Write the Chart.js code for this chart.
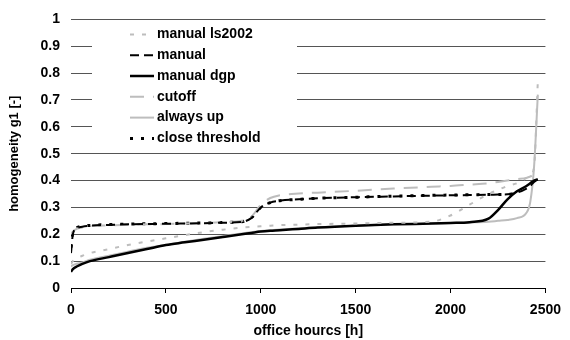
<!DOCTYPE html>
<html>
<head>
<meta charset="utf-8">
<script src="https://cdn.jsdelivr.net/npm/chart.js@4/dist/chart.umd.min.js"></script>
<style>
  body { margin: 0; background: #fff; }
  #wrap { width: 570px; height: 340px; }
</style>
</head>
<body>
<div id="wrap"><canvas id="chart" width="570" height="340"></canvas></div>
<script>
// horas de oficina (eje x) y valores de homogeneidad por estrategia
const hours = [0, 10, 30, 60, 100, 200, 300, 400, 500, 600, 700, 800, 900, 950, 1000, 1050,
  1100, 1200, 1300, 1500, 1700, 1900, 2000, 2100, 2200, 2250, 2300, 2350, 2400, 2420, 2440, 2460];

const manualLs2002 = [0.09, 0.10, 0.11, 0.12, 0.13, 0.145, 0.16, 0.173, 0.185, 0.197, 0.208, 0.217, 0.225, 0.228, 0.23, 0.232,
  0.234, 0.236, 0.238, 0.24, 0.243, 0.247, 0.27, 0.31, 0.35, 0.365, 0.38, 0.39, 0.41, 0.42, 0.45, 0.77];
const manual = [0.13, 0.20, 0.222, 0.228, 0.232, 0.235, 0.237, 0.238, 0.239, 0.24, 0.241, 0.243, 0.246, 0.26, 0.30, 0.318,
  0.325, 0.33, 0.334, 0.338, 0.341, 0.344, 0.345, 0.346, 0.347, 0.348, 0.349, 0.355, 0.37, 0.38, 0.395, 0.405];
const manualDgp = [0.06, 0.07, 0.08, 0.09, 0.10, 0.115, 0.13, 0.145, 0.16, 0.17, 0.18, 0.19, 0.20, 0.205, 0.21, 0.213,
  0.215, 0.22, 0.225, 0.232, 0.237, 0.24, 0.242, 0.245, 0.258, 0.29, 0.33, 0.36, 0.38, 0.39, 0.40, 0.405];
const cutoff = [0.20, 0.21, 0.22, 0.225, 0.23, 0.233, 0.235, 0.237, 0.238, 0.24, 0.242, 0.245, 0.25, 0.265, 0.31, 0.335,
  0.345, 0.352, 0.355, 0.362, 0.37, 0.377, 0.38, 0.385, 0.39, 0.395, 0.40, 0.405, 0.41, 0.415, 0.42, 0.42];
const alwaysUp = [0.08, 0.085, 0.09, 0.095, 0.105, 0.12, 0.135, 0.15, 0.16, 0.172, 0.183, 0.193, 0.203, 0.208, 0.212, 0.215,
  0.218, 0.222, 0.226, 0.232, 0.237, 0.24, 0.242, 0.244, 0.247, 0.25, 0.253, 0.26, 0.28, 0.32, 0.45, 0.72];
const closeThreshold = [0.15, 0.21, 0.225, 0.23, 0.233, 0.236, 0.238, 0.239, 0.24, 0.241, 0.242, 0.244, 0.247, 0.262, 0.30, 0.318,
  0.325, 0.33, 0.334, 0.338, 0.342, 0.345, 0.346, 0.347, 0.348, 0.348, 0.349, 0.35, null, null, null, null];

const yTicks = [0, 0.1, 0.2, 0.3, 0.4, 0.5, 0.6, 0.7, 0.8, 0.9, 1];
const xTicks = [0, 500, 1000, 1500, 2000, 2500];

const GRIS = '#bdbdbd';
const NEGRO = '#000000';
const FUENTE = '"Liberation Sans", Arial, sans-serif';

function serie(label, valores, color, ancho, guiones) {
    return {
        label: label,
        data: hours.map((h, i) => ({ x: h, y: valores[i] })),
        borderColor: color,
        borderWidth: ancho,
        borderDash: guiones,
        borderCapStyle: 'butt',
        pointRadius: 0,
        showLine: true,
        fill: false,
        cubicInterpolationMode: 'monotone',
        spanGaps: false
    };
}

const datasets = [
    serie('manual ls2002', manualLs2002, GRIS, 2, [4, 8]),
    serie('manual', manual, NEGRO, 2, [9, 5]),
    serie('manual dgp', manualDgp, NEGRO, 2.5, []),
    serie('cutoff', cutoff, GRIS, 2, [14, 9]),
    serie('always up', alwaysUp, GRIS, 2, []),
    serie('close threshold', closeThreshold, NEGRO, 3, [3, 8])
];

// leyenda con fondo blanco dentro del area del grafico
const leyendaCaja = {
    id: 'leyendaCaja',
    beforeDatasetsDraw(chart) {
        const ctx = chart.ctx;
        const area = chart.chartArea;
        const x0 = area.left + 21;
        const y0 = area.top + 6;
        ctx.save();
        ctx.fillStyle = '#fff';
        ctx.fillRect(x0, y0, 205, 124);
        chart.data.datasets.forEach((ds, i) => {
            const y = y0 + 9 + i * 20.8;
            ctx.strokeStyle = ds.borderColor;
            ctx.lineWidth = ds.borderWidth;
            ctx.lineCap = 'butt';
            ctx.setLineDash(ds.borderDash || []);
            ctx.beginPath();
            ctx.moveTo(x0 + 38, y);
            ctx.lineTo(x0 + 62, y);
            ctx.stroke();
            ctx.setLineDash([]);
            ctx.fillStyle = '#000';
            ctx.font = 'bold 14px ' + FUENTE;
            ctx.textBaseline = 'middle';
            ctx.textAlign = 'left';
            ctx.fillText(ds.label, x0 + 65, y);
        });
        ctx.restore();
    }
};

Chart.defaults.font.family = FUENTE;
Chart.defaults.font.weight = 'bold';
Chart.defaults.font.size = 14;
Chart.defaults.color = '#000';

const ctx = document.getElementById('chart').getContext('2d');
const grafico = new Chart(ctx, {
    type: 'scatter',
    data: { datasets: datasets },
    plugins: [leyendaCaja],
    options: {
        responsive: false,
        animation: false,
        layout: { padding: { top: 18, right: 16, left: 0, bottom: 0 } },
        plugins: { legend: { display: false }, tooltip: { enabled: false } },
        scales: {
            x: {
                type: 'linear',
                min: 0,
                max: 2500,
                afterBuildTicks: s => { s.ticks = xTicks.map(v => ({ value: v })); },
                afterFit: s => { s.height = 52; },
                ticks: { padding: 9, font: { size: 14, weight: 'bold' }, callback: v => String(v) },
                grid: { drawOnChartArea: false, drawTicks: true, tickLength: 5, color: NEGRO },
                border: { color: NEGRO, width: 1 },
                title: { display: true, text: 'office hourcs [h]', padding: { top: 0, bottom: 0 }, font: { size: 14, weight: 'bold' } }
            },
            y: {
                type: 'linear',
                min: 0,
                max: 1,
                afterBuildTicks: s => { s.ticks = yTicks.map(v => ({ value: v })); },
                afterFit: s => { s.width = 71; },
                ticks: { padding: 11, font: { size: 14, weight: 'bold' }, callback: v => String(Math.round(v * 10) / 10) },
                grid: { drawTicks: false, color: '#555' },
                border: { display: false },
                title: { display: true, text: 'homogeneity g1 [-]', padding: { top: 7, bottom: 0 }, font: { size: 13, weight: 'bold' } }
            }
        }
    }
});
</script>
</body>
</html>
